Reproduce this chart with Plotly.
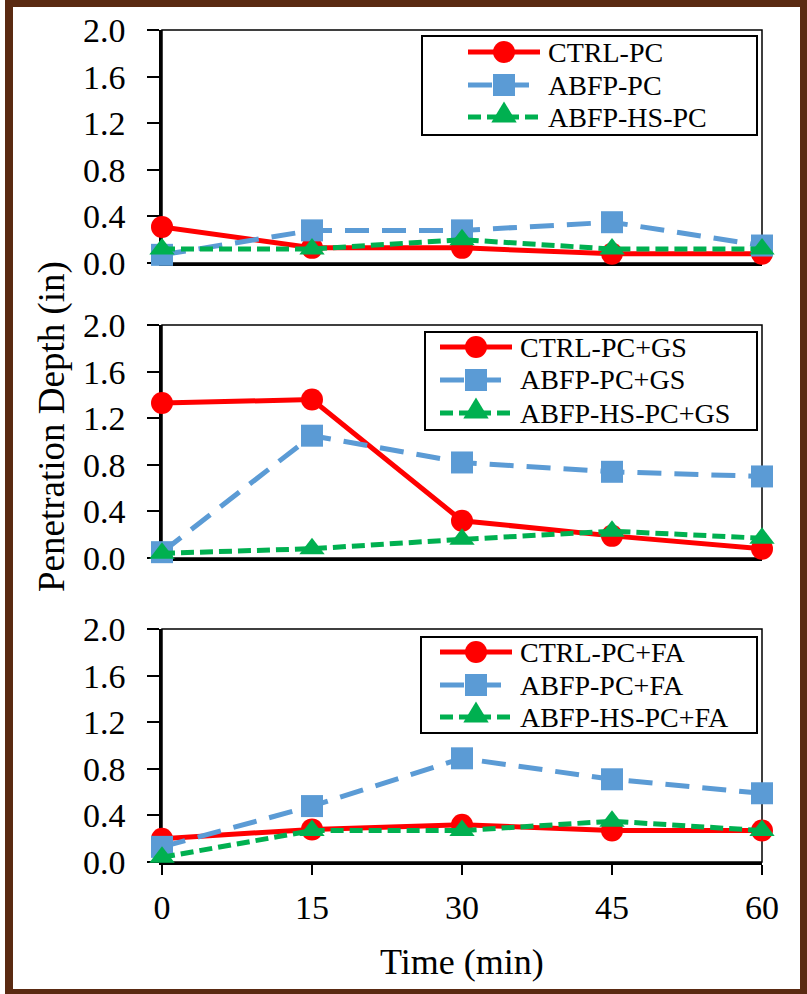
import plotly.graph_objects as go
from plotly.subplots import make_subplots

# ---------------- data ----------------
time_min = [0, 15, 30, 45, 60]
y_ticks = [0.0, 0.4, 0.8, 1.2, 1.6, 2.0]

ctrl_pc = [0.31, 0.13, 0.13, 0.08, 0.08]
abfp_pc = [0.07, 0.28, 0.28, 0.35, 0.15]
abfp_hs_pc = [0.12, 0.12, 0.20, 0.12, 0.12]

ctrl_pc_gs = [1.33, 1.36, 0.32, 0.19, 0.08]
abfp_pc_gs = [0.05, 1.05, 0.82, 0.74, 0.70]
abfp_hs_pc_gs = [0.04, 0.08, 0.16, 0.23, 0.17]

ctrl_pc_fa = [0.20, 0.28, 0.32, 0.27, 0.27]
abfp_pc_fa = [0.13, 0.48, 0.89, 0.71, 0.59]
abfp_hs_pc_fa = [0.04, 0.27, 0.27, 0.35, 0.27]

names_top = ["CTRL-PC", "ABFP-PC", "ABFP-HS-PC"]
names_mid = ["CTRL-PC+GS", "ABFP-PC+GS", "ABFP-HS-PC+GS"]
names_bot = ["CTRL-PC+FA", "ABFP-PC+FA", "ABFP-HS-PC+FA"]

x_title = "Time (min)"
y_title = "Penetration Depth (in)"

# ---------------- styles ----------------
FONT = "Liberation Serif, Times New Roman, serif"
RED, BLUE, GREEN = "#ff0000", "#5b9bd5", "#00b050"
BROWN = "#5a2a12"
styles = [
    dict(color=RED, dash="solid", symbol="circle", size=22),
    dict(color=BLUE, dash="24px,13px", symbol="square", size=22),
    dict(color=GREEN, dash="13px,6px", symbol="triangle-up", size=22),
]
LW = 5

W, H = 807, 994
L, R, T, B = 162, 45, 30, 132
PW = W - L - R
PH = H - T - B


def px(x):
    return (x - L) / PW


def py(y):
    return (H - B - y) / PH


panel_pix = [(30, 263), (325, 558), (629, 862)]
domains = [[py(b), py(t)] for (t, b) in panel_pix]

fig = make_subplots(rows=3, cols=1)

panels = [
    (names_top, [ctrl_pc, abfp_pc, abfp_hs_pc]),
    (names_mid, [ctrl_pc_gs, abfp_pc_gs, abfp_hs_pc_gs]),
    (names_bot, [ctrl_pc_fa, abfp_pc_fa, abfp_hs_pc_fa]),
]

for i, (names, series) in enumerate(panels):
    for name, vals, st in zip(names, series, styles):
        fig.add_trace(
            go.Scatter(
                x=time_min, y=vals, name=name, mode="lines+markers",
                line=dict(color=st["color"], width=LW, dash=st["dash"]),
                marker=dict(symbol=st["symbol"], size=st["size"], color=st["color"]),
                cliponaxis=False, showlegend=False,
            ),
            row=i + 1, col=1,
        )

shapes = []
annotations = []

# brown outer frame
shapes.append(dict(type="rect", xref="paper", yref="paper",
                   x0=px(13), x1=px(800), y0=py(989), y1=py(7),
                   fillcolor="white", line=dict(width=0), layer="below"))
shapes.append(dict(type="rect", xref="paper", yref="paper",
                   x0=px(0), x1=px(5), y0=py(H), y1=py(0),
                   fillcolor="white", line=dict(width=0), layer="below"))

for i in range(3):
    k = "" if i == 0 else str(i + 1)
    shapes.append(dict(type="rect", xref=f"x{k} domain", yref=f"y{k} domain",
                       x0=0, x1=1, y0=0, y1=1,
                       line=dict(color="black", width=1.5), layer="below"))
    fig.layout[f"yaxis{k}"].update(
        domain=domains[i], range=[0, 2], tickvals=y_ticks,
        ticktext=[f"{v:.1f}" for v in y_ticks],
        ticks="outside", ticklen=12, tickwidth=2, tickcolor="black",
        showline=True, linewidth=2.5, linecolor="black",
        showgrid=False, zeroline=False, layer="below traces",
        tickfont=dict(family=FONT, size=34, color="black"),
        ticklabelstandoff=15,
    )
    last = i == 2
    fig.layout[f"xaxis{k}"].update(
        range=[0, 60], tickvals=time_min,
        ticks="outside" if last else "", ticklen=10, tickwidth=2, tickcolor="black",
        showticklabels=last,
        showline=True, linewidth=2.5, linecolor="black",
        showgrid=False, zeroline=False, layer="below traces",
        tickfont=dict(family=FONT, size=34, color="black"),
        ticklabelstandoff=3,
    )

# legends (custom, Excel-like)
legend_specs = [
    dict(box=(422, 757, 36, 135), sx=468, rows=(52, 85, 117), names=names_top),
    dict(box=(425, 757, 332, 430), sx=440, rows=(347, 380, 413), names=names_mid),
    dict(box=(421, 757, 637, 733), sx=440, rows=(652, 685, 717), names=names_bot),
]
SAMPLE = 72
for spec in legend_specs:
    bx0, bx1, by0, by1 = spec["box"]
    shapes.append(dict(type="rect", xref="paper", yref="paper",
                       x0=px(bx0), x1=px(bx1), y0=py(by1), y1=py(by0),
                       fillcolor="white", line=dict(color="black", width=2),
                       layer="above"))
    for ry, name, st in zip(spec["rows"], spec["names"], styles):
        sx0 = spec["sx"]
        shapes.append(dict(type="line", xref="paper", yref="paper",
                           x0=px(sx0), x1=px(sx0 + SAMPLE), y0=py(ry), y1=py(ry),
                           line=dict(color=st["color"], width=LW, dash=st["dash"]),
                           layer="above"))
        cx = px(sx0 + SAMPLE / 2)
        cy = py(ry)
        common = dict(xref="paper", yref="paper", xsizemode="pixel",
                      ysizemode="pixel", xanchor=cx, yanchor=cy,
                      fillcolor=st["color"], line=dict(width=0), layer="above")
        if st["symbol"] == "circle":
            shapes.append(dict(type="circle", x0=-11, x1=11, y0=-11, y1=11, **common))
        elif st["symbol"] == "square":
            shapes.append(dict(type="rect", x0=-11, x1=11, y0=-11, y1=11, **common))
        else:
            shapes.append(dict(type="path",
                               path="M -12.7,-5.5 L 12.7,-5.5 L 0,15.6 Z", **common))
        annotations.append(dict(xref="paper", yref="paper", x=px(sx0 + SAMPLE + 6),
                                y=py(ry), xanchor="left", yanchor="middle",
                                text=name, showarrow=False,
                                font=dict(family=FONT, size=28, color="black")))

annotations.append(dict(xref="paper", yref="paper", x=px(462), y=py(962),
                        xanchor="center", yanchor="middle", text=x_title,
                        showarrow=False, font=dict(family=FONT, size=36, color="black")))
annotations.append(dict(xref="paper", yref="paper", x=px(52), y=py(427),
                        xanchor="center", yanchor="middle", text=y_title,
                        textangle=-90, showarrow=False,
                        font=dict(family=FONT, size=37, color="black")))

fig.update_layout(
    width=W, height=H,
    margin=dict(l=L, r=R, t=T, b=B, pad=0),
    paper_bgcolor=BROWN, plot_bgcolor="white",
    showlegend=False,
    shapes=shapes, annotations=annotations,
    font=dict(family=FONT, color="black"),
)

fig.write_html("out.html")
